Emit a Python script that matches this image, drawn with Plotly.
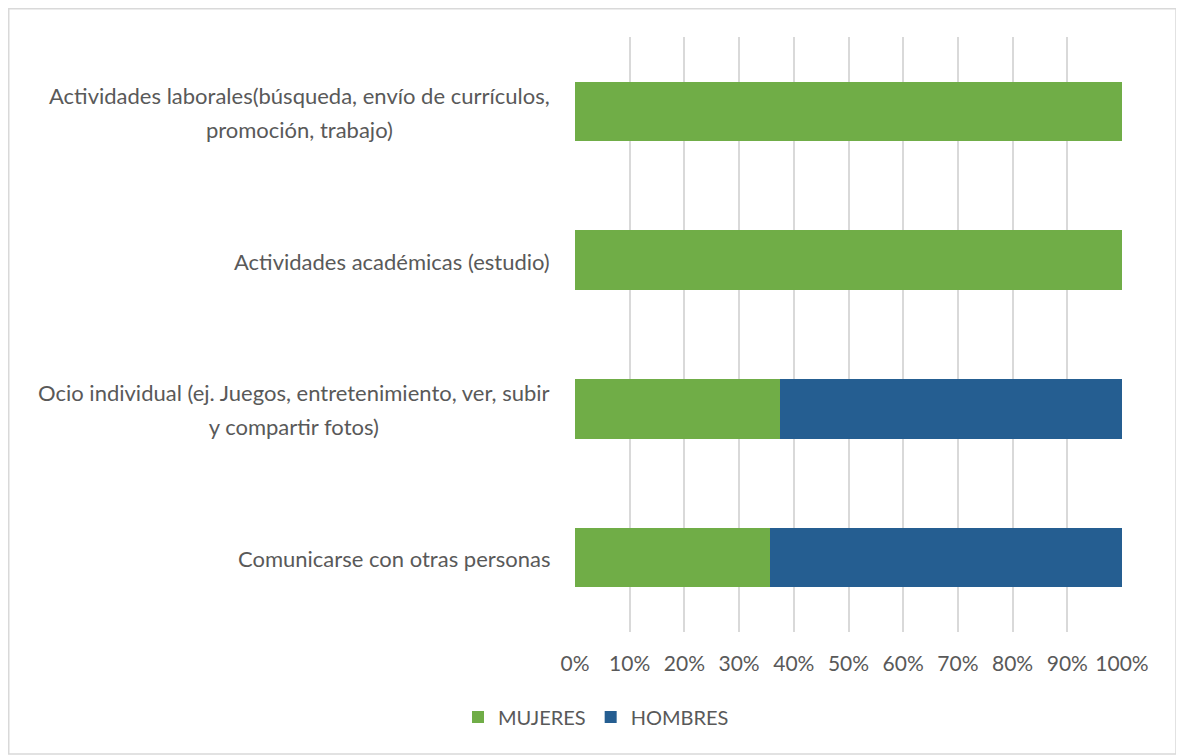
import plotly.graph_objects as go

# data, bottom to top as drawn
categorias = [
    "Comunicarse con otras personas",
    "Ocio individual (ej. Juegos, entretenimiento, ver, subir<br>y compartir fotos)",
    "Actividades académicas (estudio)",
    "Actividades laborales(búsqueda, envío de currículos,<br>promoción, trabajo)",
]
mujeres = [35.7, 37.5, 100, 100]
hombres = [64.3, 62.5, 0, 0]
ticks = [0, 10, 20, 30, 40, 50, 60, 70, 80, 90, 100]

# page has an 8px body margin, so the figure is drawn 8px smaller / shifted
W, H = 1176, 748
L, R, T, B = 567, 62, 29, 124
FONT = "Lato"
GRIS = "#595959"

fig = go.Figure()
fig.add_trace(go.Bar(y=categorias, x=mujeres, name="MUJERES", orientation="h",
                     marker=dict(color="#70AD47", line=dict(width=0))))
fig.add_trace(go.Bar(y=categorias, x=hombres, name="HOMBRES", orientation="h",
                     marker=dict(color="#255E91", line=dict(width=0))))

# category labels as annotations so wrapped lines are centred like the original
# (bigger outer font size just to get the wider line spacing)
for c in categorias:
    txt = "<br>".join(f'<span style="font-size:22px">{ln}</span>' for ln in c.split("<br>"))
    fig.add_annotation(x=0, y=c, xref="paper", yref="y", text=txt, showarrow=False,
                       xanchor="right", xshift=-23, yshift=-1, align="center",
                       font=dict(family=FONT, size=26, color=GRIS))

# outer chart border
pw, ph = W - L - R, H - T - B
fig.add_shape(type="rect", xref="paper", yref="paper",
              x0=(0.75 - L) / pw, x1=(1168 - L) / pw,
              y0=(H - B - 746) / ph, y1=(H - B - 0.75) / ph,
              line=dict(color="#d9d9d9", width=1.5), fillcolor="rgba(0,0,0,0)")

fig.update_layout(
    width=W, height=H,
    barmode="stack", bargap=0.6,
    margin=dict(l=L, r=R, t=T, b=B),
    plot_bgcolor="white", paper_bgcolor="white",
    font=dict(family=FONT, size=21, color=GRIS),
    showlegend=True,
    legend=dict(orientation="h", xref="container", yref="container",
                x=0.5, xanchor="center", y=(H - 709) / H, yanchor="middle",
                font=dict(family=FONT, size=20, color=GRIS), itemwidth=30,
                traceorder="normal"),
)
fig.update_xaxes(range=[0, 100], tickvals=ticks, ticktext=[f"{t}%" for t in ticks],
                 showgrid=True, gridcolor="#d9d9d9", gridwidth=1.5,
                 zeroline=False, showline=False, ticks="", ticklabelstandoff=17,
                 tickfont=dict(family=FONT, size=21, color=GRIS))
fig.update_yaxes(showticklabels=False, showgrid=False, zeroline=False, showline=False,
                 categoryorder="array", categoryarray=categorias)

fig.write_html("out.html")
